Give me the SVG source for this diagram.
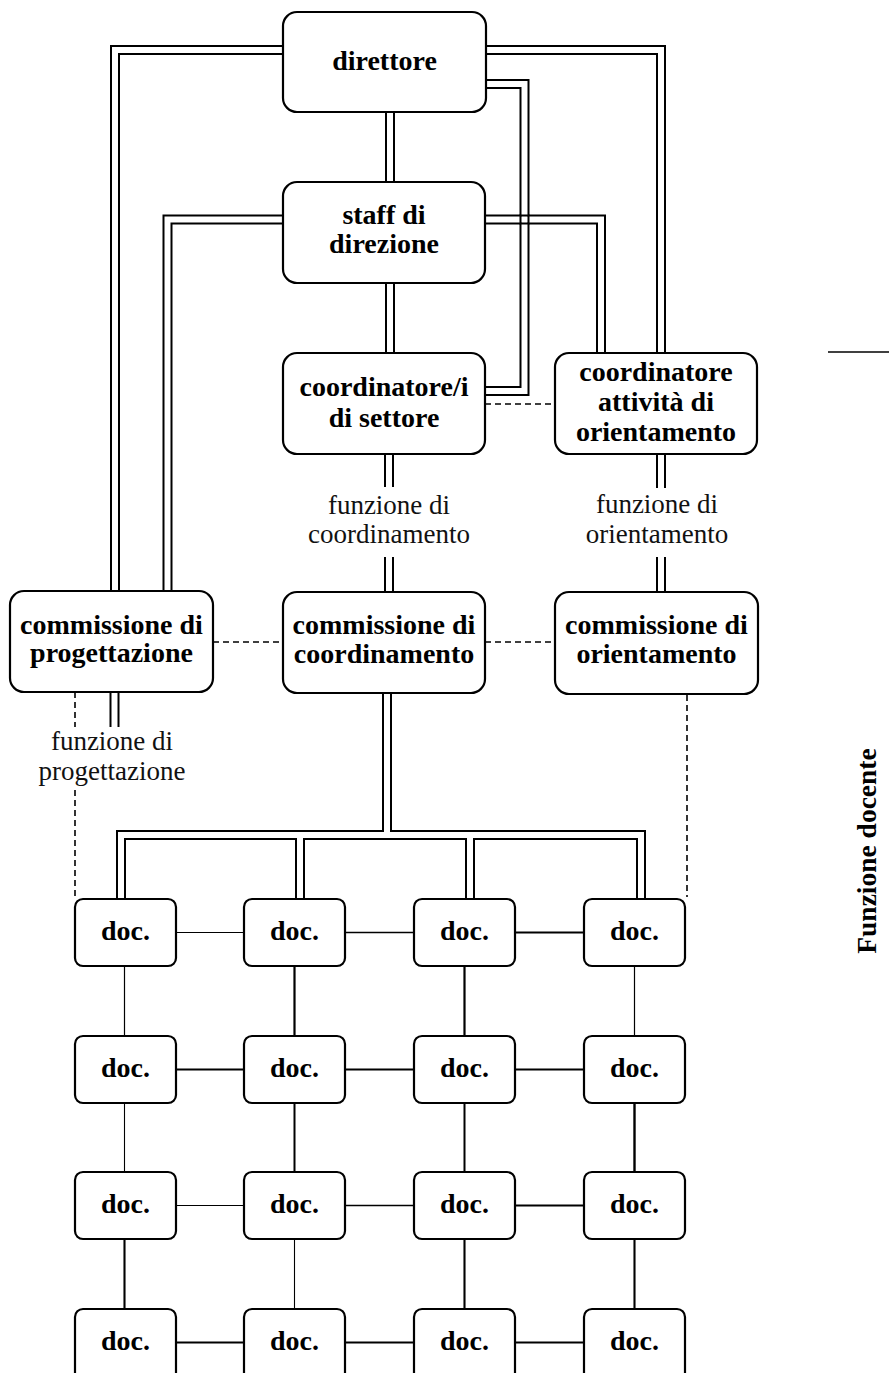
<svg xmlns="http://www.w3.org/2000/svg" width="889" height="1373" viewBox="0 0 889 1373">
<style>
.box{fill:#fff;stroke:#000;stroke-width:2.2}
.t{font-family:"Liberation Serif","Times New Roman",serif;font-weight:bold;font-size:28px;text-anchor:middle;fill:#000}
.lbl{font-family:"Liberation Serif","Times New Roman",serif;font-size:27px;text-anchor:middle;fill:#111}
.side{font-family:"Liberation Serif","Times New Roman",serif;font-weight:bold;font-size:27.5px;text-anchor:middle;fill:#000}
.po{fill:none;stroke:#000;stroke-width:10;stroke-linejoin:miter}
.pi{fill:none;stroke:#fff;stroke-width:6;stroke-linejoin:miter}
.w{stroke:#000;stroke-width:2;fill:none}
.dash{fill:none;stroke:#000;stroke-width:1.6;stroke-dasharray:6 4}
.c{fill:none;stroke:#000}
</style>
<defs>
<path id="pipes" d="M390,112V182 M390,283V353 M389,454V487 M389,557V592 M387,693V835 M121,899V835H641V899 M300,835V899 M470,835V899 M661,454V488 M661,557V592 M114.5,692V727 M283,50H115V591 M283,219.5H167.5V591 M486,50H661V353 M485,219.5H601V353 M486,84H524.5V391H485"/>
</defs>
<g id="connectors">
<use href="#pipes" class="po"/>
<use href="#pipes" class="pi"/>
<path class="w" d="M520.5,214.5V224.5 M528.5,214.5V224.5 M519.5,215.5H529.5 M519.5,223.5H529.5"/>
<path class="dash" d="M213,642H283 M485,642H555 M485,404H555 M75,692V727 M75,790V897 M687,695V897"/>
<path class="c" d="M828,352H889" stroke-width="1.3"/>
<path class="c" stroke-width="1.2" d="M176,932.5H244 M124.5,966V1036 M634.5,966V1036"/>
<path class="c" stroke-width="1.6" d="M345,932.5H414"/>
<path class="c" stroke-width="2.2" d="M515,932.5H584 M294.5,966V1036 M464.5,966V1036"/>
<path class="c" stroke-width="2" d="M176,1069.5H244 M515,1069.5H584 M294.5,1103V1172 M464.5,1103V1172"/>
<path class="c" stroke-width="1.8" d="M345,1069.5H414"/>
<path class="c" stroke-width="1.1" d="M124.5,1103V1172 M176,1205.5H244 M294.5,1239V1309"/>
<path class="c" stroke-width="2.4" d="M634.5,1103V1172"/>
<path class="c" stroke-width="1.6" d="M345,1205.5H414"/>
<path class="c" stroke-width="2.1" d="M515,1205.5H584 M124.5,1239V1309 M464.5,1239V1309 M634.5,1239V1309 M176,1342.5H244 M345,1342.5H414 M515,1342.5H584"/>
</g>
<g id="direttore"><rect class="box" x="283" y="12" width="203" height="100" rx="14"/><text class="t" x="384.5" y="70">direttore</text></g>
<g id="staff"><rect class="box" x="283" y="182" width="202" height="101" rx="14"/><text class="t" x="384" y="224">staff di</text><text class="t" x="384" y="253">direzione</text></g>
<g id="coord-settore"><rect class="box" x="283" y="353" width="202" height="101" rx="14"/><text class="t" x="384" y="396">coordinatore/i</text><text class="t" x="384" y="427">di settore</text></g>
<g id="coord-orientamento"><rect class="box" x="555" y="353" width="202" height="101" rx="14"/><text class="t" x="656" y="381">coordinatore</text><text class="t" x="656" y="411">attività di</text><text class="t" x="656" y="441">orientamento</text></g>
<g id="lbl-coordinamento"><text class="lbl" x="389" y="514">funzione di</text><text class="lbl" x="389" y="543">coordinamento</text></g>
<g id="lbl-orientamento"><text class="lbl" x="657" y="513">funzione di</text><text class="lbl" x="657" y="543">orientamento</text></g>
<g id="comm-progettazione"><rect class="box" x="10" y="591" width="203" height="101" rx="14"/><text class="t" x="111.5" y="634">commissione di</text><text class="t" x="111.5" y="662">progettazione</text></g>
<g id="comm-coordinamento"><rect class="box" x="283" y="592" width="202" height="101" rx="14"/><text class="t" x="384" y="634">commissione di</text><text class="t" x="384" y="663">coordinamento</text></g>
<g id="comm-orientamento"><rect class="box" x="555" y="592" width="203" height="102" rx="14"/><text class="t" x="656.5" y="634">commissione di</text><text class="t" x="656.5" y="663">orientamento</text></g>
<g id="lbl-progettazione"><text class="lbl" x="112" y="750">funzione di</text><text class="lbl" x="112" y="780">progettazione</text></g>
<g id="doc-r1c1"><rect class="box" x="75" y="899" width="101" height="67" rx="8"/><text class="t" x="125.5" y="940">doc.</text></g>
<g id="doc-r1c2"><rect class="box" x="244" y="899" width="101" height="67" rx="8"/><text class="t" x="294.5" y="940">doc.</text></g>
<g id="doc-r1c3"><rect class="box" x="414" y="899" width="101" height="67" rx="8"/><text class="t" x="464.5" y="940">doc.</text></g>
<g id="doc-r1c4"><rect class="box" x="584" y="899" width="101" height="67" rx="8"/><text class="t" x="634.5" y="940">doc.</text></g>
<g id="doc-r2c1"><rect class="box" x="75" y="1036" width="101" height="67" rx="8"/><text class="t" x="125.5" y="1077">doc.</text></g>
<g id="doc-r2c2"><rect class="box" x="244" y="1036" width="101" height="67" rx="8"/><text class="t" x="294.5" y="1077">doc.</text></g>
<g id="doc-r2c3"><rect class="box" x="414" y="1036" width="101" height="67" rx="8"/><text class="t" x="464.5" y="1077">doc.</text></g>
<g id="doc-r2c4"><rect class="box" x="584" y="1036" width="101" height="67" rx="8"/><text class="t" x="634.5" y="1077">doc.</text></g>
<g id="doc-r3c1"><rect class="box" x="75" y="1172" width="101" height="67" rx="8"/><text class="t" x="125.5" y="1213">doc.</text></g>
<g id="doc-r3c2"><rect class="box" x="244" y="1172" width="101" height="67" rx="8"/><text class="t" x="294.5" y="1213">doc.</text></g>
<g id="doc-r3c3"><rect class="box" x="414" y="1172" width="101" height="67" rx="8"/><text class="t" x="464.5" y="1213">doc.</text></g>
<g id="doc-r3c4"><rect class="box" x="584" y="1172" width="101" height="67" rx="8"/><text class="t" x="634.5" y="1213">doc.</text></g>
<g id="doc-r4c1"><rect class="box" x="75" y="1309" width="101" height="90" rx="8"/><text class="t" x="125.5" y="1350">doc.</text></g>
<g id="doc-r4c2"><rect class="box" x="244" y="1309" width="101" height="90" rx="8"/><text class="t" x="294.5" y="1350">doc.</text></g>
<g id="doc-r4c3"><rect class="box" x="414" y="1309" width="101" height="90" rx="8"/><text class="t" x="464.5" y="1350">doc.</text></g>
<g id="doc-r4c4"><rect class="box" x="584" y="1309" width="101" height="90" rx="8"/><text class="t" x="634.5" y="1350">doc.</text></g>
<g id="funzione-docente"><text class="side" transform="translate(876,851) rotate(-90)">Funzione docente</text></g>
</svg>
